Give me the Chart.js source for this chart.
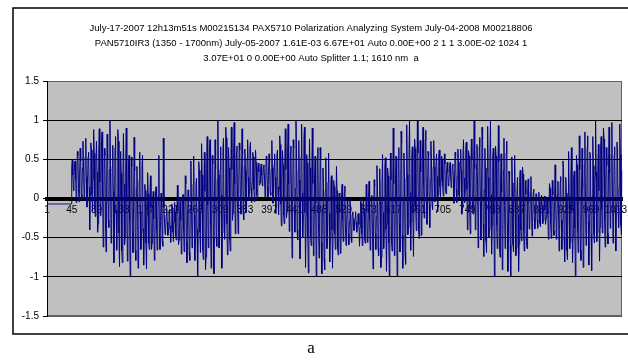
<!DOCTYPE html>
<html>
<head>
<meta charset="utf-8">
<script src="https://cdn.jsdelivr.net/npm/chart.js@4.4.0/dist/chart.umd.min.js"></script>
<style>
  html, body { margin: 0; padding: 0; background: #fff; }
  #wrap { width: 628px; height: 361px; }
</style>
</head>
<body>
<div id="wrap"><canvas id="chart" width="628" height="361"></canvas></div>
<script>
Chart.defaults.font.family = "'Liberation Sans', Arial, sans-serif";
Chart.defaults.color = '#000';

const titleLines = [
  'July-17-2007 12h13m51s M00215134 PAX5710 Polarization Analyzing System July-04-2008 M00218806',
  'PAN5710IR3 (1350 - 1700nm) July-05-2007 1.61E-03 6.67E+01 Auto 0.00E+00 2 1 1 3.00E-02 1024 1',
  '3.07E+01 0 0.00E+00 Auto Splitter 1.1; 1610 nm  a'
];
const captionText = 'a';

// category labels printed under the zero line
const shownTicks = [1, 45, 89, 133, 177, 221, 265, 309, 353, 397, 441, 485, 529,
  573, 617, 661, 705, 749, 793, 837, 881, 925, 969, 1013];

// samples 1-44: detector idle before the scan starts
const leadIn = [
  -.07, -.07, -.07, -.07, -.07, -.07, -.07, -.07, -.07, -.07, -.07,
  -.07, -.07, -.07, -.07, -.07, -.07, -.07, -.07, -.07, -.07, -.07,
  -.07, -.07, -.07, -.07, -.07, -.07, -.07, -.07, -.07, -.07, -.07,
  -.07, -.07, -.07, -.07, -.07, -.07, -.07, -.07, -.07, -.07, -.07
];

// samples 45-1024, twelve per row
const trace = [
  .41, .50, .30, .10, .20, .45, .48, .25,
  -.05, .21, .60, .55, .13, -.04, .30, .64, .48, .05, .00, .39,
  .73, .40, -.01, .05, .53, .77, .28, -.11, .08, .53, .59, .15,
  -.40, .08, .71, .62, .04, -.16, .25, .88, .58, -.14, -.23, .42,
  .73, .34, -.43, -.32, .57, .89, .21, -.22, -.01, .74, .85, .02,
  -.62, -.05, .64, .55, -.28, -.68, .15, .82, .49, -.28, -.37, .37,
  1.00, .33, -.57, -.45, .40, .68, .09, -.82, -.38, .65, .79, -.15,
  -.66, -.15, .88, .73, -.44, -.87, .03, .60, .32, -.67, -.82, .28,
  .83, .18, -.59, -.49, .45, .90, -.04, -.80, -.43, .45, .55, -.29,
  -1.00, -.35, .53, .41, -.41, -.69, -.11, .78, .35, -.66, -.79, .13,
  .41, -.02, -.89, -.76, .23, .59, -.17, -.65, -.42, .42, .55, -.39,
  -.85, -.38, .18, .10, -.57, -.90, -.22, .33, .06, -.57, -.65, -.04,
  .29, -.12, -.65, -.57, -.08, .09, -.26, -.79, -.54, .07, .15, -.40,
  -.66, -.39, .03, .55, -.48, -.65, -.29, .07, -.11, -.55, -.61, .77,
  -.12, -.25, -.46, -.43, -.21, -.13, -.30, -.47, -.39, -.17, -.14, -.35,
  -.56, -.37, -.07, -.12, -.43, -.55, -.30, -.05, -.17, -.48, -.53, -.23,
  .17, -.16, -.59, -.53, -.13, .00, -.28, -.71, -.50, -.01, .05, -.40,
  -.68, -.36, .29, .19, -.55, -.82, -.25, .11, -.06, -.69, -.79, -.09,
  .48, -.03, -.63, -.55, .18, .54, -.20, -.79, -.50, .18, .26, -.40,
  -1.00, -.37, .47, .36, -.43, -.69, -.14, .70, .30, -.66, -.78, .09,
  .59, .09, -.91, -.75, .38, .79, -.08, -.63, -.37, .59, .75, -.33,
  -.89, -.24, .55, .44, -.50, -.96, -.01, .75, .38, -.50, -.61, .24,
  1.00, .30, -.63, -.50, .37, .66, .05, -.89, -.44, .63, .77, -.20,
  -.52, -.04, .91, .77, -.32, -.72, .12, .65, .39, -.53, -.67, .36,
  .91, .37, -.28, -.19, .59, .97, .18, -.45, -.14, .59, .67, -.03,
  -.45, .05, .71, .62, .01, -.20, .23, .89, .57, -.18, -.27, .41,
  .63, .36, -.18, -.10, .52, .75, .27, -.03, .11, .64, .72, .13,
  -.05, .20, .59, .53, .12, -.04, .29, .62, .46, .05, -.01, .38,
  .45, .34, .17, .20, .37, .44, .30, .16, .23, .40, .43, .26,
  .00, .21, .54, .50, .15, .01, .29, .57, .44, .08, .04, .37,
  .74, .39, -.06, .00, .43, .57, .27, -.19, .04, .55, .62, .15,
  -.21, .12, .80, .69, -.07, -.35, .24, .61, .43, -.21, -.32, .41,
  .89, .37, -.25, -.17, .58, .95, .19, -.42, -.12, .58, .67, -.01,
  -.76, -.10, .75, .64, -.16, -.43, .13, 1.00, .58, -.40, -.53, .36,
  .74, .24, -.77, -.61, .53, .95, .07, -.49, -.22, .75, .91, -.18,
  -.88, -.23, .56, .45, -.49, -.95, .00, .76, .39, -.49, -.60, .25,
  .90, .19, -.73, -.61, .26, .54, -.06, -.99, -.54, .52, .65, -.31,
  -.76, -.29, .65, .51, -.56, -.96, -.13, .39, .14, -.77, -.91, .10,
  .52, -.01, -.64, -.55, .21, .58, -.19, -.81, -.51, .21, .29, -.40,
  -.89, -.40, .23, .15, -.45, -.65, -.23, .41, .10, -.63, -.72, -.06,
  .07, -.18, -.70, -.62, -.03, .18, -.27, -.55, -.42, .08, .16, -.40,
  -.60, -.37, -.02, -.07, -.45, -.59, -.29, .01, -.14, -.51, -.56, -.21,
  -.17, -.27, -.41, -.39, -.24, -.17, -.30, -.43, -.37, -.21, -.19, -.33,
  -.61, -.37, -.01, -.06, -.45, -.60, -.29, .02, -.13, -.52, -.57, -.21,
  .18, -.16, -.56, -.50, -.02, .22, -.27, -.66, -.47, -.02, .04, -.40,
  -.90, -.40, .24, .15, -.45, -.65, -.23, .42, .11, -.63, -.73, -.06,
  .38, -.04, -.88, -.75, .20, .56, -.18, -.64, -.42, .39, .52, -.39,
  -.93, -.33, .39, .29, -.57, -.99, -.12, .58, .24, -.57, -.67, .11,
  .90, .19, -.73, -.61, .26, .54, -.06, -.99, -.54, .52, .65, -.31,
  -.68, -.17, .86, .71, -.46, -.89, .01, .58, .30, -.69, -.84, .26,
  .94, .30, -.46, -.36, .56, 1.00, .08, -.66, -.30, .56, .66, -.17,
  -.74, -.09, .76, .64, -.15, -.41, .14, .99, .58, -.39, -.51, .37,
  .74, .34, -.47, -.35, .57, .91, .20, -.25, -.03, .75, .87, .00,
  -.33, .10, .60, .53, -.08, -.37, .24, .73, .49, -.08, -.14, .40,
  .74, .40, -.04, .02, .43, .57, .28, -.17, .05, .56, .62, .16,
  .02, .23, .54, .50, .16, .03, .30, .57, .44, .10, .06, .37,
  .46, .34, .16, .19, .38, .46, .30, .14, .22, .41, .44, .26,
  -.06, .20, .59, .54, .12, -.05, .29, .63, .47, .04, -.01, .38,
  .63, .36, -.20, -.12, .51, .75, .26, -.05, .10, .64, .72, .12,
  -.40, .06, .61, .54, -.13, -.45, .22, .76, .50, -.13, -.20, .40,
  .99, .38, -.40, -.30, .44, .69, .17, -.63, -.24, .66, .78, -.04,
  -.53, -.06, .91, .76, -.33, -.74, .11, .64, .39, -.54, -.69, .35,
  .92, .27, -.50, -.40, .54, .99, .05, -.71, -.34, .54, .64, -.20,
  -1.00, -.27, .67, .54, -.34, -.64, -.02, .93, .47, -.61, -.75, .23,
  .57, .08, -.91, -.76, .36, .77, -.09, -.64, -.37, .58, .73, -.33,
  -.93, -.35, .35, .25, -.59, -.99, -.15, .53, .20, -.59, -.68, .08,
  .55, -.01, -.73, -.63, .05, .27, -.20, -.93, -.58, .25, .36, -.40,
  -.54, -.23, .40, .31, -.41, -.67, -.12, .23, .06, -.55, -.64, .04,
  .25, -.04, -.39, -.34, .08, .28, -.14, -.48, -.31, .08, .12, -.25,
  -.39, -.21, .06, .02, -.27, -.38, -.15, .08, -.03, -.32, -.36, -.09,
  .04, -.10, -.32, -.28, -.06, .03, -.15, -.33, -.25, -.02, .02, -.20,
  -.52, -.24, .19, .13, -.33, -.51, -.14, .23, .05, -.41, -.47, -.04,
  .43, .02, -.52, -.45, .05, .22, -.13, -.67, -.41, .21, .28, -.28,
  -.65, -.28, .48, .36, -.50, -.81, -.15, .27, .07, -.66, -.78, .04,
  .60, .03, -.64, -.55, .26, .65, -.16, -.82, -.50, .26, .35, -.38,
  -1.00, -.34, .55, .43, -.41, -.69, -.10, .80, .37, -.66, -.79, .14,
  .64, .13, -.88, -.73, .43, .85, -.04, -.60, -.33, .65, .80, -.29,
  -.85, -.20, .59, .48, -.46, -.92, .03, .79, .42, -.46, -.57, .28,
  1.00, .34, -.55, -.43, .41, .69, .10, -.80, -.37, .66, .79, -.14,
  -.44, .01, .90, .76, -.25, -.62, .16, .65, .42, -.44, -.58, .38,
  .91, .32, -.38, -.28, .56, .97, .12, -.57, -.23, .56, .66, -.11,
  -.67, -.06, .72, .62, -.12, -.37, .15, .95, .56, -.34, -.46, .36
];

const values = leadIn.concat(trace);
const pointNumbers = values.map((_, i) => i + 1);

// white page, the chart border (runs off to the right) and the grey plot area
const framePlugin = {
  id: 'frame',
  beforeDraw(chart) {
    const { ctx, chartArea: a } = chart;
    ctx.save();
    ctx.fillStyle = '#fff';
    ctx.fillRect(0, 0, chart.width, chart.height);
    ctx.strokeStyle = '#000';
    ctx.lineWidth = 1.5;
    ctx.strokeRect(13, 8, chart.width, 326);
    ctx.fillStyle = '#c0c0c0';
    ctx.fillRect(a.left, a.top, a.right - a.left, a.bottom - a.top);
    ctx.strokeStyle = '#606060';
    ctx.lineWidth = 1;
    ctx.strokeRect(a.left + 0.5, a.top + 0.5, a.right - a.left - 1, a.bottom - a.top - 1);
    ctx.restore();
  }
};

new Chart(document.getElementById('chart'), {
  type: 'line',
  data: {
    labels: pointNumbers,
    datasets: [{
      data: values,
      borderColor: '#000080',
      borderWidth: 1,
      pointRadius: 0,
      tension: 0,
      fill: false
    }]
  },
  options: {
    responsive: false,
    animation: false,
    events: [],
    layout: { padding: { left: 0, top: 0, bottom: 0, right: 6 } },
    plugins: {
      legend: { display: false },
      tooltip: { enabled: false },
      title: {
        display: true,
        text: titleLines,
        color: '#000',
        font: { size: 9.5, weight: 'normal', lineHeight: 15 / 9.5 },
        padding: { top: 20.5, bottom: 15.5 }
      },
      subtitle: {
        display: true,
        position: 'bottom',
        text: captionText,
        color: '#000',
        font: { family: "'Liberation Serif', 'Times New Roman', serif", size: 17, lineHeight: 1.2 },
        padding: { top: 22.8, bottom: 1.8 }
      }
    },
    scales: {
      x: {
        position: { y: 0 },
        // the axis sits on the zero line, so it takes no room of its own
        afterFit: s => {
          s.height = 0;
          s.paddingLeft = 0;
          s.paddingRight = 0;
        },
        grid: { display: true, drawOnChartArea: false, drawTicks: false },
        border: { display: true, color: '#000', width: 4 },
        ticks: {
          autoSkip: false,
          maxRotation: 0,
          minRotation: 0,
          padding: 6,
          color: '#000',
          font: { size: 10 },
          callback(value, index) {
            const n = pointNumbers[index];
            return shownTicks.includes(n) ? String(n) : null;
          }
        }
      },
      y: {
        min: -1.5,
        max: 1.5,
        afterFit: s => { s.width = 47; },
        ticks: {
          stepSize: 0.5,
          padding: 4,
          color: '#000',
          font: { size: 10 },
          callback: v => String(v)
        },
        grid: {
          color: c => Math.abs(c.tick.value) === 1.5 ? '#606060' : '#000',
          tickColor: '#000',
          tickLength: 4,
          lineWidth: 1
        },
        border: { color: '#000', width: 1 }
      }
    }
  },
  plugins: [framePlugin]
});
</script>
</body>
</html>
